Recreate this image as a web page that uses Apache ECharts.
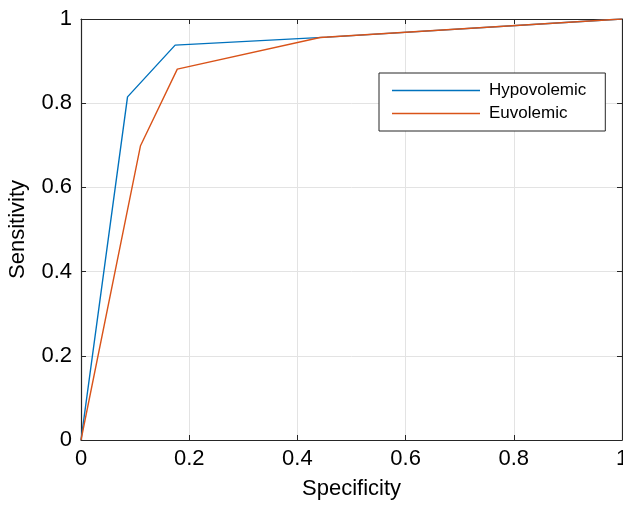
<!DOCTYPE html>
<html>
<head>
<meta charset="utf-8">
<script src="https://cdn.jsdelivr.net/npm/echarts@6/dist/echarts.min.js"></script>
<style>html,body{margin:0;padding:0;background:#fff}#c{width:623px;height:506px}</style>
</head>
<body>
<div id="c"></div>
<script>
const seriesNames = ['Hypovolemic', 'Euvolemic'];
const hypoX = [0, 0.086, 0.174, 0.455, 1];
const hypoY = [0, 0.815, 0.938, 0.957, 1];
const euvoX = [0, 0.110, 0.178, 0.442, 1];
const euvoY = [0, 0.699, 0.881, 0.956, 1];
const tickVals = [0, 0.2, 0.4, 0.6, 0.8, 1];
const colors = ['#0072BD', '#D95319'];

const pairs = (xs, ys) => xs.map((x, i) => [x, ys[i]]);
const font = 'Liberation Sans, Helvetica, Arial, sans-serif';
const axisCol = '#262626';
const fmt = v => String(v);

function axis(pos, show) {
  return {
    type: 'value', position: pos, min: tickVals[0], max: tickVals[tickVals.length - 1], interval: 0.2,
    axisLine: { show: true, onZero: false, lineStyle: { color: axisCol, width: 1.2 } },
    axisTick: { show: true, inside: true, length: 5, lineStyle: { color: axisCol, width: 1 } },
    axisLabel: show ? { show: true, color: '#000', fontSize: 22, fontFamily: font, margin: 8, formatter: fmt } : { show: false },
    splitLine: { show: show, lineStyle: { color: '#e3e3e3', width: 1 } }
  };
}

const chart = echarts.init(document.getElementById('c'));
const xB = axis('bottom', true);
xB.name = 'Specificity'; xB.nameLocation = 'middle'; xB.nameGap = 38;
xB.nameTextStyle = { color: '#000', fontSize: 22, fontFamily: font };
const yL = axis('left', true);
yL.axisLabel.margin = 9;
yL.name = 'Sensitivity'; yL.nameLocation = 'middle'; yL.nameGap = 52;
yL.nameTextStyle = { color: '#000', fontSize: 22, fontFamily: font };

chart.setOption({
  animation: false,
  grid: { left: 81, top: 19, width: 541, height: 421, containLabel: false, outerBoundsMode: 'none' },
  xAxis: [xB, axis('top', false)],
  yAxis: [yL, axis('right', false)],
  legend: {
    orient: 'vertical', left: 379, top: 73,
    data: seriesNames,
    itemWidth: 88, itemHeight: 14, itemGap: 6,
    padding: [9, 19, 9, 13],
    borderColor: axisCol, borderWidth: 1, backgroundColor: '#fff',
    icon: 'path://M0,0 L88,0 L88,1.4 L0,1.4 Z',
    textStyle: { fontSize: 17, fontFamily: font, color: '#000', padding: [0, 0, 0, 4] }
  },
  series: [
    { name: seriesNames[0], type: 'line', data: pairs(hypoX, hypoY), showSymbol: false, symbol: 'none', lineStyle: { color: colors[0], width: 1.4 }, itemStyle: { color: colors[0] } },
    { name: seriesNames[1], type: 'line', data: pairs(euvoX, euvoY), showSymbol: false, symbol: 'none', lineStyle: { color: colors[1], width: 1.4 }, itemStyle: { color: colors[1] } }
  ]
});
</script>
</body>
</html>
